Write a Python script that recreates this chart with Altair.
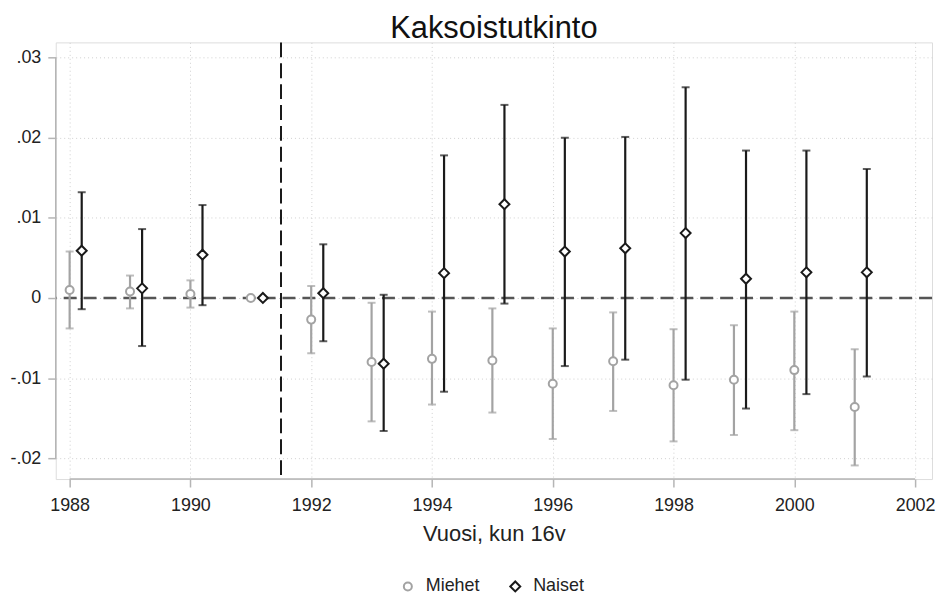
import altair as alt
import pandas as pd

years = list(range(1988, 2002))
men_est = [0.0010, 0.0008, 0.0005, 0.0, -0.0027, -0.0080, -0.0076, -0.0078, -0.0107, -0.0079, -0.0109, -0.0102, -0.0090, -0.0136]
men_lo = [-0.0038, -0.0013, -0.0012, None, -0.0069, -0.0154, -0.0133, -0.0143, -0.0176, -0.0141, -0.0179, -0.0171, -0.0165, -0.0209]
men_hi = [0.0058, 0.0028, 0.0022, None, 0.0015, -0.0006, -0.0017, -0.0013, -0.0038, -0.0018, -0.0039, -0.0034, -0.0017, -0.0064]
women_est = [0.0059, 0.0012, 0.0054, 0.0, 0.0006, -0.0082, 0.0031, 0.0117, 0.0058, 0.0062, 0.0081, 0.0024, 0.0032, 0.0032]
women_lo = [-0.0014, -0.0060, -0.0009, None, -0.0054, -0.0166, -0.0117, -0.0007, -0.0085, -0.0077, -0.0102, -0.0138, -0.0120, -0.0098]
women_hi = [0.0132, 0.0086, 0.0116, None, 0.0067, 0.0004, 0.0178, 0.0241, 0.0200, 0.0201, 0.0263, 0.0184, 0.0184, 0.0161]

groups = ["Miehet", "Naiset"]
x_ticks = [1988, 1990, 1992, 1994, 1996, 1998, 2000, 2002]
y_ticks = [-0.02, -0.01, 0.0, 0.01, 0.02, 0.03]
reform_year = [1991.5]
zero_line = [0.0]

rows = []
for i, y in enumerate(years):
    rows.append({"year": y, "group": "Miehet", "est": men_est[i], "lo": men_lo[i], "hi": men_hi[i]})
    rows.append({"year": y, "group": "Naiset", "est": women_est[i], "lo": women_lo[i], "hi": women_hi[i]})
df = pd.DataFrame(rows)

W, H = 881, 439
FONT = "Liberation Sans"
GRAY = "#a3a3a3"
BLACK = "#1a1a1a"
AXIS_GRAY = "#b5b5b5"
group_colors = {"Miehet": GRAY, "Naiset": BLACK}

xscale = alt.Scale(domain=[1987.77, 2002.28], nice=False, zero=False)
yscale = alt.Scale(domain=[-0.0226, 0.0319], nice=False, zero=False)
cscale = alt.Scale(domain=groups, range=[GRAY, BLACK])
legend = alt.Legend(title=None, orient="none", direction="horizontal",
                    legendX=345, legendY=538, padding=0,
                    labelFontSize=18, labelFont=FONT, labelColor="#222", labelOffset=9,
                    symbolSize=40, symbolStrokeWidth=2, symbolFillColor="white",
                    columnPadding=26)

base = alt.Chart(df).transform_calculate(
    xpos="datum.group == 'Naiset' ? datum.year + 0.2 : datum.year"
)

xaxis = alt.Axis(values=x_ticks, format="d", title="Vuosi, kun 16v", domain=False,
                 grid=True, gridColor="#d0d0d0", gridDash=[1, 3], gridWidth=1,
                 tickColor=AXIS_GRAY, tickSize=8, tickWidth=1.5,
                 labelFontSize=18, labelColor="#222", labelFont=FONT, labelPadding=10,
                 titleFontSize=22, titleFont=FONT, titleFontWeight="normal", titleColor="#222",
                 titlePadding=9)
yaxis = alt.Axis(values=y_ticks, title=None, domain=False,
                 labelExpr="datum.value == 0 ? '0' : (datum.value < 0 ? '-' : '') + replace(format(abs(datum.value), '.2f'), '0.', '.')",
                 grid=True, gridColor="#d0d0d0", gridDash=[1, 3], gridWidth=1,
                 tickColor=AXIS_GRAY, tickSize=8, tickWidth=1.5,
                 labelFontSize=18, labelColor="#222", labelFont=FONT, labelPadding=7)

frame = base.mark_point(opacity=0).encode(
    x=alt.X("xpos:Q", scale=xscale, axis=xaxis),
    y=alt.Y("est:Q", scale=yscale, axis=yaxis),
)

yline = alt.Chart(pd.DataFrame({"a": [min(y_ticks)], "b": [max(y_ticks)]})).mark_rule(
    color=AXIS_GRAY, strokeWidth=1.5).encode(
    x=alt.value(0), y=alt.Y("a:Q", scale=yscale), y2="b:Q")
xline = alt.Chart(pd.DataFrame({"a": [min(x_ticks)], "b": [max(x_ticks)]})).mark_rule(
    color=AXIS_GRAY, strokeWidth=1.5).encode(
    y=alt.value(H), x=alt.X("a:Q", scale=xscale), x2="b:Q")

zero = alt.Chart(pd.DataFrame({"v": zero_line})).mark_rule(
    color="#555555", strokeWidth=2.6, strokeDash=[13, 7]).encode(
    y=alt.Y("v:Q", scale=yscale))
reform = alt.Chart(pd.DataFrame({"v": reform_year})).mark_rule(
    color=BLACK, strokeWidth=2, strokeDash=[15, 6]).encode(
    x=alt.X("v:Q", scale=xscale))

layers = [frame, zero, reform, yline, xline]
for g in groups:
    ci = base.transform_filter(f"datum.group == '{g}' && isValid(datum.lo)")
    layers.append(ci.mark_rule(strokeWidth=2.2, color=group_colors[g]).encode(
        x=alt.X("xpos:Q", scale=xscale), y=alt.Y("lo:Q", scale=yscale), y2="hi:Q"))
    layers.append(ci.mark_tick(orient="horizontal", size=8, thickness=2, color=group_colors[g]).encode(
        x=alt.X("xpos:Q", scale=xscale), y=alt.Y("lo:Q", scale=yscale)))
    layers.append(ci.mark_tick(orient="horizontal", size=8, thickness=2, color=group_colors[g]).encode(
        x=alt.X("xpos:Q", scale=xscale), y=alt.Y("hi:Q", scale=yscale)))

points = base.mark_point(filled=False, fill="white", fillOpacity=1, strokeWidth=2, opacity=1).encode(
    x=alt.X("xpos:Q", scale=xscale),
    y=alt.Y("est:Q", scale=yscale),
    color=alt.Color("group:N", scale=cscale, legend=legend),
    shape=alt.Shape("group:N", scale=alt.Scale(domain=groups, range=["circle", "diamond"]), legend=legend),
    size=alt.Size("group:N", scale=alt.Scale(domain=groups, range=[65, 100]), legend=None),
)
layers.append(points)

chart = alt.layer(*layers).properties(
    width=W, height=H,
    title=alt.Title("Kaksoistutkinto", fontSize=31, font=FONT, fontWeight="normal",
                    color="#111", anchor="middle", offset=-4),
    padding={"left": 1, "top": 4, "right": 0, "bottom": 0},
).configure_view(stroke=None).configure(background="white")

chart.save("out.html", embed_options={"renderer": "svg", "actions": False})
